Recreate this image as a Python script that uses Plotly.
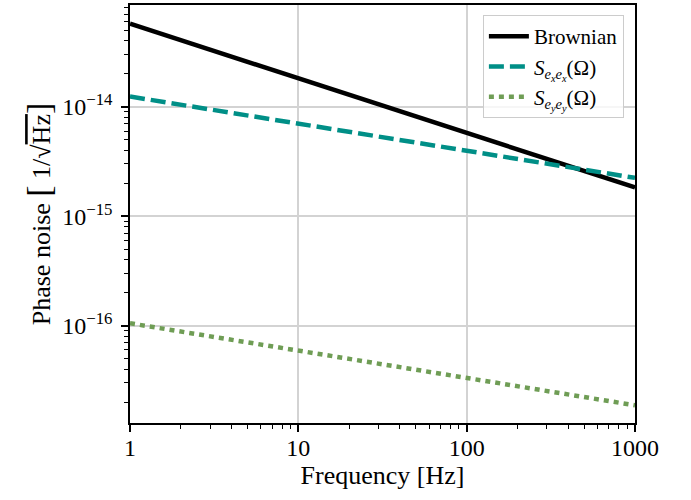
import plotly.graph_objects as go

freq = [1, 10, 100, 1000]
brownian = [5.75e-14, 1.82e-14, 5.75e-15, 1.83e-15]
s_exex = [1.24e-14, 7.0e-15, 3.95e-15, 2.24e-15]
s_eyey = [1.05e-16, 5.9e-17, 3.32e-17, 1.87e-17]

x_ticks = [1, 10, 100, 1000]
x_ticktext = ["1", "10", "100", "1000"]
y_ticks = [1e-16, 1e-15, 1e-14]
y_ticktext = ["10<sup>−16</sup>", "10<sup>−15</sup>", "10<sup>−14</sup>"]

FONT = "Liberation Serif"

fig = go.Figure()
fig.add_trace(go.Scatter(x=freq, y=brownian, mode="lines", name="Brownian",
                         line=dict(color="black", width=4.5)))
fig.add_trace(go.Scatter(x=freq, y=s_exex, mode="lines",
                         name="<i>S</i><sub><i>e</i><sub><i>x</i></sub><i>e</i><sub><i>x</i></sub></sub>(Ω)",
                         line=dict(color="#008f87", width=4.5, dash="15px,6px")))
fig.add_trace(go.Scatter(x=freq, y=s_eyey, mode="lines",
                         name="<i>S</i><sub><i>e</i><sub><i>y</i></sub><i>e</i><sub><i>y</i></sub></sub>(Ω)",
                         line=dict(color="#6f9d55", width=4.5, dash="5px,5px")))

minor_x = [m * 10 ** d for d in range(0, 3) for m in range(2, 10)]
minor_y = [m * 10.0 ** d for d in range(-17, -13) for m in range(2, 10)]

common = dict(type="log", ticks="outside", ticklen=7, tickwidth=1.5, tickcolor="black",
              showline=True, linecolor="black", linewidth=1.5, mirror=True,
              showgrid=True, gridcolor="#d3d3d3", gridwidth=1.5, zeroline=False,
              automargin=True, tickfont=dict(family=FONT, size=24, color="black"))

fig.update_xaxes(range=[0, 3], tickmode="array", tickvals=x_ticks, ticktext=x_ticktext,
                 ticklabelstandoff=-5,
                 minor=dict(tickmode="array", tickvals=minor_x, ticks="outside", ticklen=4,
                            tickwidth=1, tickcolor="black", showgrid=False),
                 title=dict(text="Frequency [Hz]", font=dict(family=FONT, size=26, color="black"),
                            standoff=2),
                 **common)
fig.update_yaxes(range=[-16.89, -13.07], tickmode="array", tickvals=y_ticks, ticktext=y_ticktext,
                 ticklabelstandoff=4,
                 minor=dict(tickmode="array", tickvals=minor_y, ticks="outside", ticklen=4,
                            tickwidth=1, tickcolor="black", showgrid=False),
                 title=dict(text="Phase noise <span style='font-size:34px'>[</span> 1/√<span style='text-decoration:overline'>Hz</span><span style='font-size:34px'>]</span>",
                            font=dict(family=FONT, size=26, color="black"), standoff=4),
                 **common)

fig.update_layout(
    width=691, height=500,
    margin=dict(l=130, r=56, t=3, b=77),
    plot_bgcolor="white", paper_bgcolor="white",
    font=dict(family=FONT, size=21, color="black"),
    legend=dict(x=0.978, y=0.976, xanchor="right", yanchor="top",
                bgcolor="rgba(255,255,255,0.8)", bordercolor="#cccccc", borderwidth=1,
                font=dict(family=FONT, size=21, color="black"), tracegroupgap=0,
                itemwidth=40),
)

fig.write_html("out.html", config={"displayModeBar": False},
               post_script="document.body.style.margin='0px';")
